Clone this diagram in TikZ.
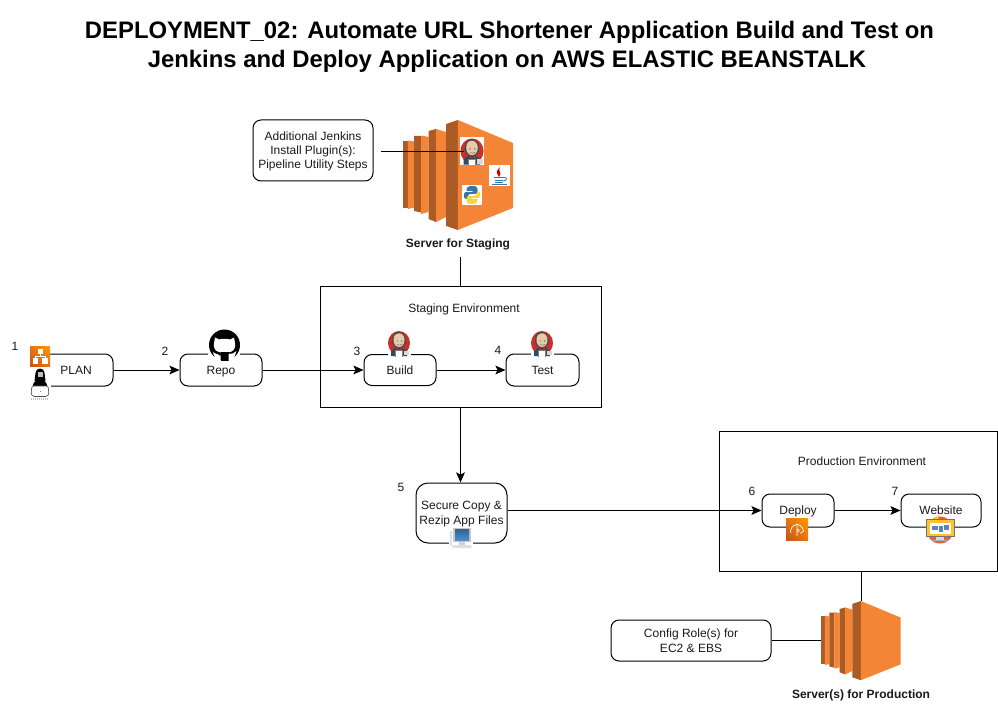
\documentclass[tikz,border=0pt]{standalone}
\usepackage{fontspec}
\setmainfont{Liberation Sans}
\usetikzlibrary{arrows.meta,shadings}
\definecolor{awsO}{HTML}{F58536}
\definecolor{awsD}{HTML}{AD5B24}
\definecolor{ink}{HTML}{000000}
\definecolor{txt}{HTML}{1A1A1A}
\definecolor{oDark}{HTML}{C8511B}
\definecolor{oLight}{HTML}{FF9900}
\definecolor{oMid}{HTML}{E47611}
\definecolor{jRed}{HTML}{C9302C}
\definecolor{jNavy}{HTML}{2F4A63}
\definecolor{jSkin}{HTML}{E8C9A8}
\definecolor{webRed}{HTML}{E9603A}
\definecolor{webBlue}{HTML}{5A86B8}
\definecolor{scrBlue}{HTML}{4A8FCF}
\definecolor{pyBlue}{HTML}{3776AB}
\definecolor{pyYellow}{HTML}{FFD43B}
\tikzset{
  box/.style={draw=ink,line width=0.75pt,rounded corners=6pt,fill=white,align=center,font=\fontsize{9}{10.5}\selectfont,text=txt,inner sep=0pt},
  envbox/.style={draw=ink,line width=0.75pt,fill=white,inner sep=0pt},
  lbl/.style={font=\fontsize{9}{11}\selectfont,text=txt,inner sep=0pt,align=center},
  blbl/.style={font=\fontsize{9}{11}\selectfont\bfseries,text=txt,inner sep=0pt,align=center},
  conn/.style={draw=ink,line width=0.75pt},
  arr/.style={conn,-{Stealth[length=7.5pt,width=6.5pt,inset=1.5pt]}},
  ttl/.style={font=\fontsize{17.9}{21.75}\selectfont\bfseries,text=black,align=center,inner sep=0pt}
}
\newcommand{\sv}[1]{\rule[-3.25pt]{0pt}{9.75pt}\raisebox{-1.4pt}{#1}}
\newcommand{\tv}{\rule{0pt}{8pt}}
\newcommand{\serverIcon}[3]{%
 \begin{scope}[shift={(#1,#2)},scale=#3]
  \fill[awsD] (0,21)--(5.3,21)--(5.3,88)--(0,88)--cycle;
  \fill[awsO] (5.3,20.5)--(11.6,21.5)--(11.6,87.5)--(5.3,89)--cycle;
  \fill[awsD] (11.6,16)--(18.6,16)--(18.6,92.5)--(11.6,91)--cycle;
  \fill[awsO] (18.6,15.5)--(26,17)--(26,92)--(18.6,94)--cycle;
  \fill[awsD] (26,11)--(33.6,9)--(33.6,102)--(26,99)--cycle;
  \fill[awsO] (33.6,9)--(43.6,12)--(43.6,97)--(33.6,102)--cycle;
  \fill[awsD] (43.6,4)--(55.3,0)--(55.3,110)--(43.6,106)--cycle;
  \fill[awsO] (55.3,0)--(110.5,23)--(110.5,88)--(55.3,110)--cycle;
 \end{scope}}
\newcommand{\jenkinsIcon}[3]{%
 \begin{scope}[shift={(#1,#2)},scale=#3]
  \fill[white] (-11.5,-13) rectangle (11.5,13.5);
  \fill[jRed] (0,0) ellipse (11 and 12);
  \fill[black!70] (-7,-2)..controls (-8,-14) and (7,-14)..(7,-2)..controls (7,2) and (4,5)..(0,5)..controls (-4,5) and (-7,2)..(-7,-2)--cycle;
  \fill[jSkin] (-5.5,-3)..controls (-6,-12) and (5.5,-12)..(5.5,-3)..controls (5.5,1) and (3,4)..(0,4)..controls (-3,4) and (-5.5,1)..(-5.5,-3)--cycle;
  \fill[black!65] (-1.8,-2) circle (0.7);
  \fill[black!65] (2.6,-2) circle (0.7);
  \draw[black!60,line width=0.35pt] (-2,1.5)..controls (-0.5,2.5) and (1.5,2.5)..(3,1.2);
  \fill[jNavy] (-8,13)--(-8,8)--(-4,5)--(4,5)--(8,8)--(8,13)--cycle;
  \fill[jRed!90!black] (-2.5,4.5)--(0.3,6)--(3,4.5)--(3,7.5)--(0.3,6)--(-2.5,7.5)--cycle;
  \fill[white] (-3.5,13.5) rectangle (3.5,7.5);
  \draw[black!50,line width=0.3pt] (-3.5,13.5)--(-3.5,7.5)--(3.5,7.5)--(3.5,13.5);
  \fill[black!15] (5,7.5) rectangle (10,12);
 \end{scope}}
\begin{document}
\begin{tikzpicture}[x=0.75pt,y=-0.75pt]
\useasboundingbox (0,0) rectangle (998,716);
\fill[white] (0,0) rectangle (998,716);

\node[ttl] (title) at (509.5,46.5) {DEPLOYMENT\_02: Automate URL Shortener Application Build and Test on\\\hspace*{-3.8pt}Jenkins and Deploy Application on AWS ELASTIC BEANSTALK};

% environments
\node[envbox,minimum width=210.75pt,minimum height=90pt] (stagingenv) at (460.5,347) {};
\node[envbox,minimum width=208.5pt,minimum height=105pt] (prodenv) at (858,501) {};
\node[lbl] (stagingtitle) at (464,309.5) {Staging Environment};
\node[lbl] (prodtitle) at (862,461) {Production Environment};

% servers
\serverIcon{402.5}{120}{1}
\serverIcon{821}{601}{0.72}
\node[blbl] (stagingserver) at (458,244.5) {Server for Staging};
\node[blbl] (prodserver) at (861,695) {Server(s) for Production};
\node[inner sep=0pt,minimum width=60pt,minimum height=60pt] (prodicon) at (861,640.5) {};

% process boxes
\node[box,minimum width=90pt,minimum height=45.75pt] (plugins) at (313,150.5) {\tv Additional Jenkins\\Install Plugin(s):\\Pipeline Utility Steps};
\node[box,minimum width=55.5pt,minimum height=24pt] (plan) at (76,370) {\sv{PLAN}};
\node[box,minimum width=61.5pt,minimum height=24pt] (repo) at (221,370) {\sv{Repo}};
\node[box,minimum width=54pt,minimum height=23.25pt] (build) at (400,370) {\sv{Build}};
\node[box,minimum width=54.75pt,minimum height=24pt] (test) at (542.5,370) {\sv{Test}};
\node[box,rounded corners=9pt,minimum width=68.25pt,minimum height=45pt] (secure) at (461.5,513) {\tv Secure Copy \&\\[1pt]Rezip App Files};
\node[box,minimum width=54pt,minimum height=24.75pt] (deploy) at (798,510.5) {\sv{Deploy}};
\node[box,minimum width=60pt,minimum height=24.75pt] (website) at (941,510.5) {\sv{Website}};
\node[box,minimum width=120pt,minimum height=30.75pt] (config) at (691,640.5) {Config Role(s) for\\[1pt]EC2 \& EBS};

% connectors
\coordinate (stagingtop) at (460.5,257);
\coordinate (prodtop) at (861,571);
\coordinate (pluginsline) at (381,152);
\coordinate (jenkinshead) at (464,152);
\coordinate (prodline) at (861,601);
\draw[conn] (stagingtop) -- (stagingenv.north);
\draw[conn] (prodtop) -- (prodline);
\draw[conn] (config.east) -- (prodicon.west);
\draw[arr] (plan.east) -- (repo.west);
\draw[arr] (repo.east) -- (build.west);
\draw[arr] (build.east) -- (test.west);
\draw[arr] (stagingenv.south) -- (stagingenv.south |- secure.north);
\draw[arr] (secure.east |- deploy.west) -- (deploy.west);
\draw[arr] (deploy.east) -- (website.west);

% number labels
\node[lbl] (n1) at (15,346) {1};
\node[lbl] (n2) at (165,351) {2};
\node[lbl] (n3) at (357,351) {3};
\node[lbl] (n4) at (498,350) {4};
\node[lbl] (n5) at (401,487) {5};
\node[lbl] (n6) at (752,491) {6};
\node[lbl] (n7) at (895,491) {7};

% icons on the staging server
\jenkinsIcon{472}{151}{1.05}
\draw[conn] (pluginsline) -- (jenkinshead);
% java
\fill[white] (489,165) rectangle (510,186);
\fill[red!80!black] (500,167)..controls (497,171) and (503,172)..(499,177)..controls (498,174) and (494,173)..(500,167)--cycle;
\begin{scope}[draw=pyBlue,line width=0.6pt]
 \draw (494,177.5)--(504,177.5);
 \draw (495,180)--(503,180);
 \draw (495,182.5)--(503,182.5);
 \draw (492,184.5)--(507,184.5);
 \draw (504,177.5)..controls (508,177) and (507,181)..(503,181);
\end{scope}
% python
\fill[white] (462,185) rectangle (482,205);
\fill[pyBlue] (472,186)..controls (467,186) and (466.5,188)..(466.5,190)--(466.5,191)--(472.5,191)--(472.5,192)--(466,192)..controls (463,192) and (463,199)..(466,199)--(468,199)--(468,196)..controls (468,194) and (470,194)..(471,194)--(475,194)..controls (477,194) and (477.5,193)..(477.5,191)--(477.5,189)..controls (477.5,187) and (476,186)..(472,186)--cycle;
\fill[pyYellow] (472,204)..controls (477,204) and (477.5,202)..(477.5,200)--(477.5,199)--(471.5,199)--(471.5,198)--(478,198)..controls (481,198) and (481,191)..(478,191)--(477.5,191)--(477.5,193)..controls (477.5,195) and (475,196)..(473,196)--(469,196)..controls (467,196) and (466.5,197)..(466.5,199)--(466.5,201)..controls (466.5,203) and (468,204)..(472,204)--cycle;

% plan icon
\shade[lower left=oDark,upper right=oLight,upper left=oMid,lower right=oMid] (30,346) rectangle (50,366);
\begin{scope}[white]
 \fill (37.5,348.5) rectangle (42.5,353.5);
 \fill (32.5,358) rectangle (38,363.5);
 \fill (42,358) rectangle (47.5,363.5);
 \draw[line width=0.7pt] (40,353)--(40,356)--(35,356)--(35,358);
 \draw[line width=0.7pt] (40,356)--(45,356)--(45,358);
\end{scope}
% user icon
\fill[white] (29,367) rectangle (51,401);
\fill[black] (34.5,381)--(35.5,373)..controls (35.5,367) and (44.5,367)..(44.5,373)--(45.5,381)--cycle;
\fill[black!25] (37.5,372) rectangle (42.5,377);
\fill[black] (32.5,387)..controls (33,382) and (36,380)..(40,380)..controls (44,380) and (47,382)..(47.5,387)--cycle;
\draw[black!70,line width=0.5pt,fill=white,rounded corners=1pt] (32,386)--(31,394)--(33,396.5)--(47,396.5)--(49,394)--(48,386)--cycle;
\fill[black!50] (39.5,390.5) rectangle (40.5,391.5);
\draw[black!25,line width=0.8pt,dash pattern=on 1pt off 0.5pt] (31,399)--(49,399);

% github icon
\fill[white] (208,329) rectangle (240,360);
\fill[black] (224.5,345) circle (15.5);
\fill[white] (215,337.5)--(219,339.5)..controls (222,338.5) and (227,338.5)..(230,339.5)--(234,337.5)--(235,343)..controls (236,349) and (233,352)..(228,352.5)--(221,352.5)..controls (216,352) and (213,349)..(214,343)--cycle;
\fill[black] (220.5,352) rectangle (228.5,361);
\fill[white] (216,361) -- (212.5,351)..controls (214,353.5) and (217,354.5)..(220.5,354.5)--(220.5,361)--cycle;
\fill[white] (233,361) -- (236.5,351)..controls (235,353.5) and (232,353.5)..(228.5,354)--(228.5,361)--cycle;
\draw[black,line width=1.5pt] (212,350)..controls (215,353) and (218,351.5)..(220.5,355);

% jenkins on Build/Test
\jenkinsIcon{399}{343}{1}
\jenkinsIcon{542}{343}{1}

% computer icon
\fill[white] (449,527) rectangle (473,549);
\fill[black!12] (449.5,531) rectangle (452,546);
\fill[black!22] (453,528) rectangle (471,542);
\shade[top color=scrBlue!70!black,bottom color=scrBlue] (455,529.5) rectangle (469,540);
\fill[black!18] (459,542) rectangle (465,545);
\fill[black!12] (453,545)--(471,545)--(472,548)--(452,548)--cycle;

% deploy icon
\shade[lower left=oDark,upper right=oLight,upper left=oMid,lower right=oMid] (786,518) rectangle (808,540);
\draw[white,line width=0.5pt,rounded corners=1.5pt] (791,533)--(790,529)--(793,527)--(795,524)--(799,524)--(801,527)--(804,529)--(803,533)--(800,533);
\draw[white,line width=0.5pt] (797,525)--(797,536) (797,529)..controls (800,529) and (800,532)..(797,532);

% website icon
\fill[webRed] (940,530) circle (13.5);
\fill[pyYellow!85!orange] (933,519)--(940,514.5)--(938,519)--cycle;
\fill[black!55] (925.5,519) rectangle (955,536.5);
\fill[pyYellow!80!orange] (926.5,520) rectangle (954,535.5);
\fill[white] (930,522.5) rectangle (951,534);
\fill[webBlue] (932,525.5) rectangle (938,530);
\fill[webBlue] (939,526) rectangle (943,532);
\fill[webBlue] (944,525) rectangle (949,530);
\fill[black!15] (936,536.5) rectangle (944,539.5);
\fill[black!30] (933,539.5) rectangle (947,541);
\end{tikzpicture}
\end{document}
